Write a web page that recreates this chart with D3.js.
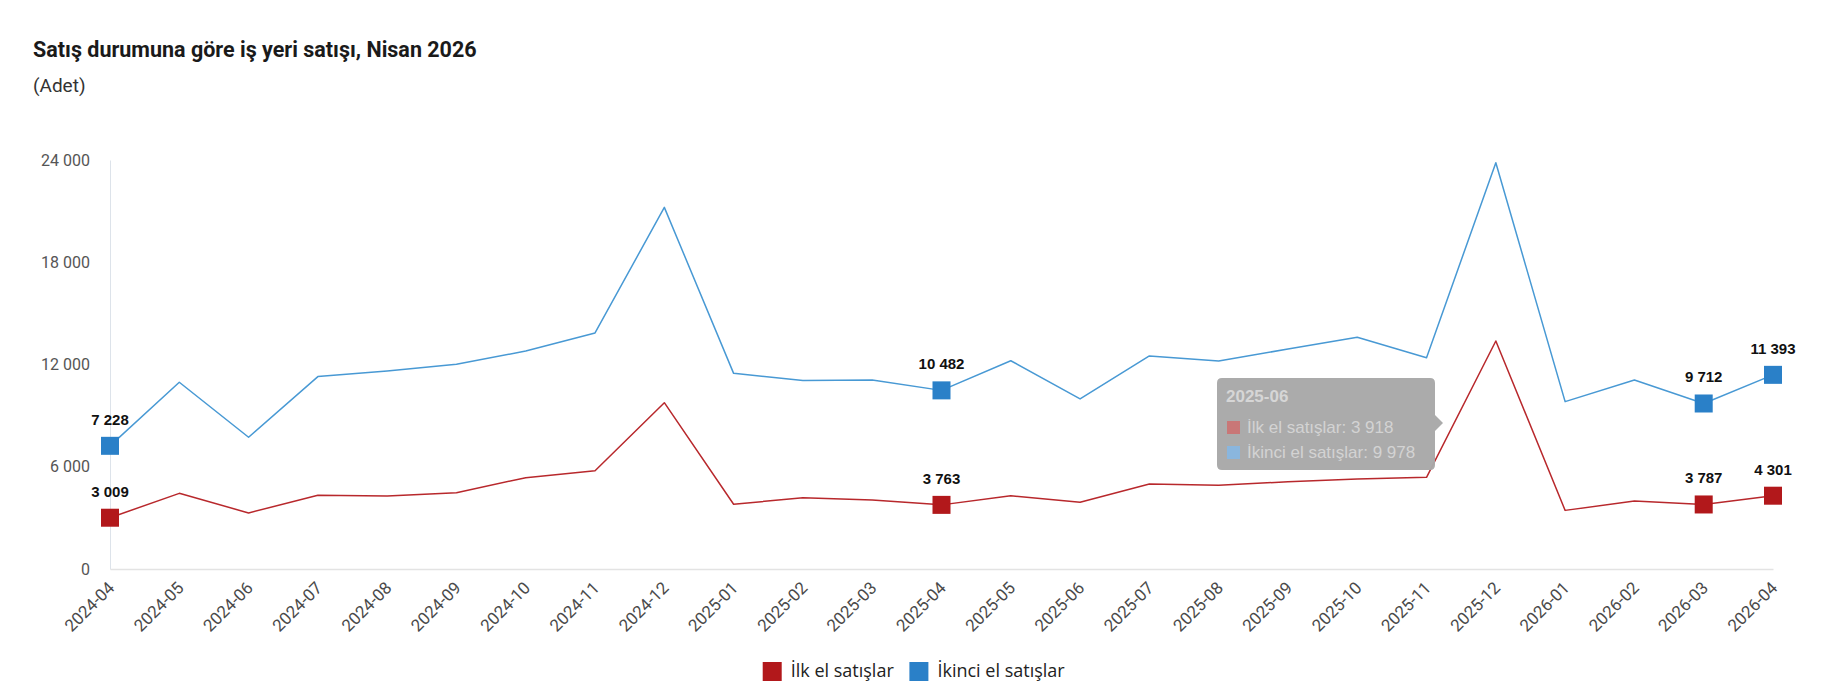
<!DOCTYPE html>
<html>
<head>
<meta charset="utf-8">
<script src="https://cdn.jsdelivr.net/npm/d3@7"></script>
<style>
  html, body { margin: 0; padding: 0; background: #fff; }
  svg { display: block; }
</style>
</head>
<body>
<div id="chart-container"></div>
<script>
// months on the x axis
var months = ["2024-04","2024-05","2024-06","2024-07","2024-08","2024-09","2024-10","2024-11","2024-12",
  "2025-01","2025-02","2025-03","2025-04","2025-05","2025-06","2025-07","2025-08","2025-09","2025-10",
  "2025-11","2025-12","2026-01","2026-02","2026-03","2026-04"];

// İlk el satışlar
var ilkEl = [3009,4440,3290,4330,4290,4470,5360,5770,9760,
  3800,4180,4050,3763,4300,3918,4990,4910,5120,5280,
  5380,13380,3440,3990,3787,4301];

// İkinci el satışlar
var ikinciEl = [7228,10960,7730,11290,11620,12010,12790,13850,21220,
  11480,11060,11090,10482,12220,9978,12500,12200,12910,13600,
  12400,23840,9820,11090,9712,11393];

var yTicks = [0, 6000, 12000, 18000, 24000];
var labelledMonths = ["2024-04","2025-04","2026-03","2026-04"];

var seriesNames = ["İlk el satışlar", "İkinci el satışlar"];
var lineColors = ["#b8282c", "#4899d4"];
var markerColors = ["#b2181b", "#2a80c8"];

var tooltipTitle = "2025-06";
var tooltipRows = ["İlk el satışlar: 3 918", "İkinci el satışlar: 9 978"];

var width = 1828, height = 700;
var margin = {top: 160, right: 55, bottom: 131, left: 110};
var plotW = width - margin.left - margin.right;
var plotH = height - margin.top - margin.bottom;

var loc = d3.formatLocale({decimal: ",", thousands: " ", grouping: [3], currency: ["", ""]});
var fmt = loc.format(",d");

var svg = d3.select("#chart-container")
    .append("svg")
    .attr("width", width)
    .attr("height", height);

// title
svg.append("text")
    .attr("x", 33).attr("y", 57)
    .attr("font-family", "Roboto, sans-serif")
    .attr("font-weight", 700)
    .attr("font-size", 21.5)
    .attr("fill", "#1a1a1a")
    .text("Satış durumuna göre iş yeri satışı, Nisan 2026");

svg.append("text")
    .attr("x", 33).attr("y", 92)
    .attr("font-family", "Roboto, sans-serif")
    .attr("font-size", 19)
    .attr("fill", "#333")
    .text("(Adet)");

var g = svg.append("g")
    .attr("transform", "translate(" + margin.left + "," + margin.top + ")");

var x = d3.scalePoint()
    .domain(months)
    .range([0, plotW]);

var y = d3.scaleLinear()
    .domain([0, 24000])
    .range([plotH, 0]);

// y axis
var yAxis = d3.axisLeft(y)
    .tickValues(yTicks)
    .tickSize(0)
    .tickPadding(20)
    .tickFormat(fmt);

g.append("g")
    .attr("class", "y-axis")
    .call(yAxis)
    .call(function(a) {
        a.select(".domain").attr("stroke", "#dde3ea").attr("stroke-width", 1);
        a.selectAll("text")
            .attr("font-family", "Roboto, sans-serif")
            .attr("font-size", 16)
            .attr("fill", "#555");
    });

// x axis
var xAxis = d3.axisBottom(x)
    .tickSize(0)
    .tickPadding(0);

g.append("g")
    .attr("class", "x-axis")
    .attr("transform", "translate(0," + plotH + ")")
    .call(xAxis)
    .call(function(a) {
        a.select(".domain").attr("stroke", "#e3e3e3").attr("stroke-width", 1.5);
        a.selectAll("text")
            .attr("font-family", "Roboto, sans-serif")
            .attr("font-size", 17)
            .attr("fill", "#4a4a4a")
            .attr("text-anchor", "end")
            .attr("dy", null)
            .attr("y", null)
            .attr("transform", "translate(5,20) rotate(-45)");
    });

var allSeries = [ilkEl, ikinciEl];

var line = d3.line()
    .x(function(d, i) { return x(months[i]); })
    .y(function(d) { return y(d); });

allSeries.forEach(function(vals, si) {
    g.append("path")
        .datum(vals)
        .attr("fill", "none")
        .attr("stroke", lineColors[si])
        .attr("stroke-width", 1.5)
        .attr("stroke-linejoin", "round")
        .attr("d", line);

    var pts = vals.map(function(v, i) { return {m: months[i], v: v}; })
        .filter(function(d) { return labelledMonths.indexOf(d.m) >= 0; });

    g.selectAll(".mk" + si)
        .data(pts)
        .enter()
        .append("rect")
        .attr("x", function(d) { return x(d.m) - 9; })
        .attr("y", function(d) { return y(d.v) - 9; })
        .attr("width", 18)
        .attr("height", 18)
        .attr("fill", markerColors[si]);

    g.selectAll(".lb" + si)
        .data(pts)
        .enter()
        .append("text")
        .attr("x", function(d) { return x(d.m); })
        .attr("y", function(d) { return y(d.v) - 21; })
        .attr("text-anchor", "middle")
        .attr("font-family", "'Liberation Sans', Arial, sans-serif")
        .attr("font-weight", 700)
        .attr("font-size", 15)
        .attr("fill", "#111")
        .text(function(d) { return fmt(d.v); });
});

// tooltip left on screen
var tip = svg.append("g").attr("transform", "translate(1217,378)");
var tw = 218, th = 92, r = 5;
tip.append("path")
    .attr("d", "M" + r + ",0 H" + (tw - r) + " Q" + tw + ",0 " + tw + "," + r +
        " V" + (th / 2 - 9) + " L" + (tw + 8) + "," + (th / 2 - 1) + " L" + tw + "," + (th / 2 + 7) +
        " V" + (th - r) + " Q" + tw + "," + th + " " + (tw - r) + "," + th +
        " H" + r + " Q0," + th + " 0," + (th - r) + " V" + r + " Q0,0 " + r + ",0 Z")
    .attr("fill", "#a8a8a8")
    .attr("fill-opacity", 0.97);
tip.append("text")
    .attr("x", 9).attr("y", 24)
    .attr("font-family", "'Liberation Sans', Arial, sans-serif")
    .attr("font-weight", 700)
    .attr("font-size", 17)
    .attr("fill", "#d6d6d6")
    .text(tooltipTitle);
var tipSwatch = ["#c97777", "#8ab6de"];
tooltipRows.forEach(function(t, i) {
    tip.append("rect")
        .attr("x", 10).attr("y", 43 + i * 25)
        .attr("width", 13).attr("height", 13)
        .attr("fill", tipSwatch[i]);
    tip.append("text")
        .attr("x", 30).attr("y", 55 + i * 25)
        .attr("font-family", "'Liberation Sans', Arial, sans-serif")
        .attr("font-size", 17)
        .attr("fill", "#d3d3d3")
        .text(t);
});

// legend
var leg = svg.append("g");
var items = leg.selectAll("g")
    .data(seriesNames)
    .enter()
    .append("g");
items.append("rect")
    .attr("width", 19).attr("height", 19)
    .attr("y", 662)
    .attr("fill", function(d, i) { return markerColors[i]; });
items.append("text")
    .attr("x", 28).attr("y", 677)
    .attr("font-family", "'Open Sans', sans-serif")
    .attr("font-size", 18)
    .attr("fill", "#222")
    .text(function(d) { return d; });
var offs = [], cur = 0;
items.each(function() {
    offs.push(cur);
    cur += this.getBBox().width + 15;
});
var total = cur - 15;
var startX = width / 2 - total / 2;
items.attr("transform", function(d, i) { return "translate(" + (startX + offs[i]) + ",0)"; });
</script>
</body>
</html>
